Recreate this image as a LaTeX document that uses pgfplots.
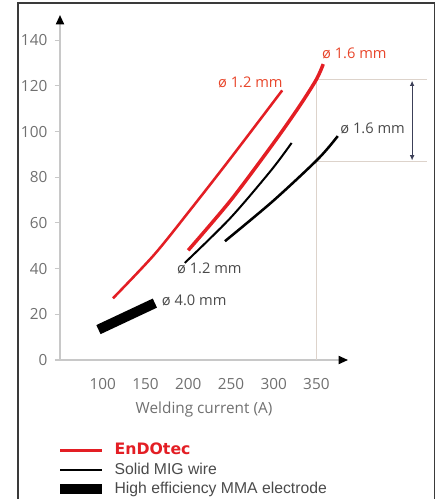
\documentclass[border=0pt]{standalone}
\usepackage{fontspec}
\setmainfont{Open Sans}
\newfontfamily\legfont{Liberation Sans}
\newfontfamily\logofont{DejaVu Sans}
\usepackage{pgfplots}
\pgfplotsset{compat=1.18}
\usetikzlibrary{arrows.meta}
\definecolor{endred}{HTML}{E31E24}
\definecolor{lblred}{HTML}{E8452A}
\definecolor{tickgray}{HTML}{707070}
\definecolor{axgray}{HTML}{C8C8C8}
\definecolor{refline}{HTML}{DDD3CB}
\definecolor{arrowc}{HTML}{3C4058}
\definecolor{framec}{HTML}{3A3A3A}
\definecolor{lbldark}{HTML}{4A4A4A}
\begin{document}
\begin{tikzpicture}
\useasboundingbox (0,0) rectangle (327.75pt,374.25pt);
\draw[framec, line width=1.4pt] (13.5pt,-2pt) -- (13.5pt,372pt) -- (325.9pt,372pt) -- (325.9pt,-2pt);
\begin{axis}[
  at={(45pt,104.25pt)}, anchor=south west,
  scale only axis, width=216pt, height=258.75pt,
  xmin=50, xmax=387, ymin=0, ymax=151,
  axis x line=bottom, axis y line=left,
  axis line style={axgray, line width=1.3pt, -{Triangle[black,length=7pt,width=6pt]}},
  xtick={100,150,...,350}, ytick={0,20,...,140},
  x tick style={draw=none},
  y tick style={axgray, line width=0.8pt},
  tick align=outside, major tick length=4pt,
  tick label style={font=\fontsize{11.5}{13}\selectfont, text=tickgray},
  /pgf/number format/assume math mode=true,
  xticklabel style={yshift=-6.5pt},
  yticklabel style={xshift=-2pt},
  xlabel={Welding current (A)},
  xlabel style={at={(axis description cs:0.5,0)}, anchor=center, yshift=-37.5pt, font=\fontsize{11.5}{13}\selectfont, text=tickgray},
  clip=false,
  legend style={at={(axis description cs:0,-0.225)}, anchor=north west, xshift=-3.75pt, yshift=-3pt, draw=none, fill=none, inner sep=0pt, row sep=1.6pt,
    font=\legfont\fontsize{11.8}{13}\selectfont, text=lbldark,
    nodes={inner sep=1pt, text height=8.5pt, text depth=2.5pt}},
  legend cell align=left,
]
% reference lines
\addplot[refline, line width=1.1pt, forget plot] coordinates {(350,0) (350,122.8)};
\addplot[refline, line width=1.1pt, forget plot] coordinates {(350,122.8) (480,122.8)};
\addplot[refline, line width=1.1pt, forget plot] coordinates {(350,86.8) (480,86.8)};
\draw[arrowc, line width=0.8pt, {Latex[length=4pt,width=3.5pt]}-{Latex[length=4pt,width=3.5pt]}] (axis cs:462,122.3) -- (axis cs:462,87.3);
% EnDOtec 1.2
\addplot[endred, line width=1.9pt, smooth, legend image code/.code={\draw[endred, line width=2.2pt] (0pt,0pt) -- (31.5pt,0pt); \path (36pt,0pt);}]
  coordinates {(112,27) (160,46) (202,65.5) (250,88.5) (310,118)};
\addlegendentry{{\logofont\bfseries\textcolor{endred}{EnDOtec}}}
% EnDOtec 1.6
\addplot[endred, line width=2.6pt, smooth, forget plot]
  coordinates {(200,48) (250,70) (300,95) (330,111) (350,122.8) (358,129.5)};
% Solid MIG 1.2
\addplot[black, line width=1.5pt, smooth, legend image code/.code={\draw[black, line width=2.2pt] (0pt,0pt) -- (31.5pt,0pt); \path (36pt,0pt);}]
  coordinates {(196,42.5) (249,62) (297,83) (321,95)};
\addlegendentry{Solid MIG wire}
% Solid MIG 1.6
\addplot[black, line width=1.9pt, smooth, forget plot]
  coordinates {(243,52) (299,69.5) (352,88) (375,98)};
% MMA 4.0
\addplot[black, line width=7.5pt, legend image code/.code={\draw[black, line width=7.5pt] (0pt,0pt) -- (31.5pt,0pt); \path (36pt,0pt);}]
  coordinates {(95,13.3) (161,24.9)};
\addlegendentry{High efficiency MMA electrode}
% labels
\node[anchor=west, inner sep=0pt, text=lblred, font=\fontsize{11}{13}\selectfont] at (axis cs:356.4,134.2) {ø 1.6 mm};
\node[anchor=west, inner sep=0pt, text=lblred, font=\fontsize{11}{13}\selectfont] at (axis cs:234.8,121.5) {ø 1.2 mm};
\node[anchor=west, inner sep=0pt, text=lbldark, font=\fontsize{11}{13}\selectfont] at (axis cs:377.8,101.3) {ø 1.6 mm};
\node[anchor=west, inner sep=0pt, text=lbldark, font=\fontsize{11}{13}\selectfont] at (axis cs:186.8,40) {ø 1.2 mm};
\node[anchor=west, inner sep=0pt, text=lbldark, font=\fontsize{11}{13}\selectfont] at (axis cs:169,26) {ø 4.0 mm};
\end{axis}
\end{tikzpicture}
\end{document}
